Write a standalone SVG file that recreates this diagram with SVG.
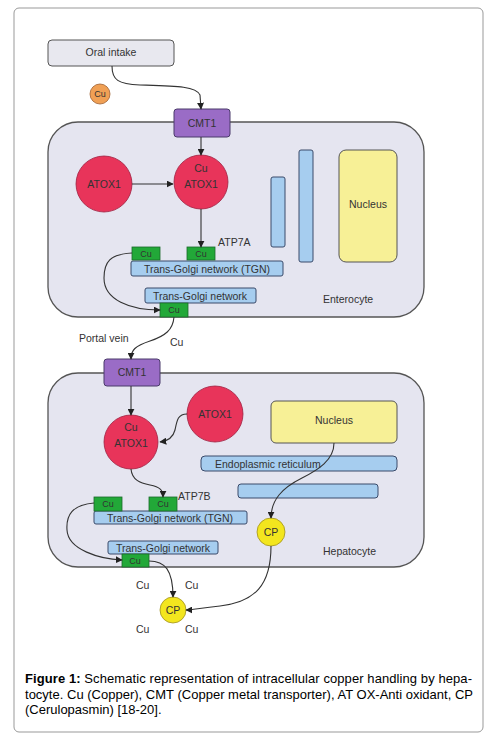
<svg xmlns="http://www.w3.org/2000/svg" width="496" height="745" viewBox="0 0 496 745">
<defs>
<style>
.t{font-family:"Liberation Sans",Arial,sans-serif;font-size:10.5px;fill:#333;}
.s{font-size:9px;}
.c{text-anchor:middle;}
.cell{fill:#e5e5f0;stroke:#555;stroke-width:1.3;}
.red{fill:#e8345a;stroke:#a02040;stroke-width:0.8;}
.cmt{fill:#9a6cc6;stroke:#4a3a6a;stroke-width:1;}
.grn{fill:#22a838;stroke:#1a6a2a;stroke-width:0.8;}
.blu{fill:#a6cdef;stroke:#3a4a6a;stroke-width:1;}
.nuc{fill:#f7f096;stroke:#555;stroke-width:1;}
.cp{fill:#f3e61e;stroke:#a09020;stroke-width:0.8;}
.ln{fill:none;stroke:#333;stroke-width:1.1;}
.cap{font-family:"Liberation Sans",Arial,sans-serif;font-size:13px;fill:#000;}
</style>
<marker id="ar" viewBox="0 0 10 10" refX="9" refY="5" markerWidth="7" markerHeight="7" orient="auto" markerUnits="userSpaceOnUse">
<path d="M0,0 L10,5 L0,10 z" fill="#222"/>
</marker>
</defs>
<rect x="14" y="8" width="469" height="724" rx="5" fill="#fff" stroke="#999" stroke-width="1"/>

<g id="enterocyte">
<rect class="cell" x="48" y="122" width="376" height="195" rx="30"/>
<text class="t" x="323" y="303">Enterocyte</text>
</g>
<g id="hepatocyte">
<rect class="cell" x="48" y="373" width="376" height="194" rx="30"/>
<text class="t" x="323" y="555">Hepatocyte</text>
</g>

<g id="oral-intake">
<rect x="48" y="40" width="126" height="26" rx="4" fill="#e8e8ef" stroke="#555" stroke-width="1"/>
<text class="t c" x="111" y="56">Oral intake</text>
</g>
<g id="cu-orange">
<circle cx="100" cy="94" r="10" fill="#f0a055" stroke="#a06030" stroke-width="0.8"/>
<text class="t c s" x="100" y="97">Cu</text>
</g>
<g id="cmt1-top">
<rect class="cmt" x="174" y="109" width="56" height="28" rx="3"/>
<text class="t c" x="202" y="127">CMT1</text>
</g>
<g id="atox1-left">
<circle class="red" cx="104" cy="184" r="28"/>
<text class="t c" x="104" y="188">ATOX1</text>
</g>
<g id="cu-atox1-top">
<circle class="red" cx="201" cy="182" r="27"/>
<text class="t c" x="201" y="172">Cu</text>
<text class="t c" x="201" y="188">ATOX1</text>
</g>
<g id="tgn-top">
<rect class="blu" x="131" y="261" width="152" height="15" rx="2"/>
<text class="t c" x="207" y="272.5">Trans-Golgi network (TGN)</text>
</g>
<g id="cu-g1">
<rect class="grn" x="132" y="247" width="28" height="13"/>
<text class="t c s" x="146" y="257">Cu</text>
</g>
<g id="cu-g2">
<rect class="grn" x="187" y="247" width="28" height="13"/>
<text class="t c s" x="201" y="257">Cu</text>
</g>
<text class="t" x="218" y="246">ATP7A</text>
<g id="tgn2-top">
<rect class="blu" x="145" y="288" width="111" height="15" rx="2"/>
<text class="t c" x="200" y="299.5">Trans-Golgi network</text>
</g>
<g id="cu-g3">
<rect class="grn" x="160" y="303" width="28" height="14"/>
<text class="t c s" x="174" y="313">Cu</text>
</g>
<g id="bars-top">
<rect class="blu" x="271" y="177" width="14" height="70" rx="2"/>
<rect class="blu" x="299" y="150" width="14" height="112" rx="2"/>
</g>
<g id="nucleus-top">
<rect class="nuc" x="339" y="150" width="58" height="112" rx="7"/>
<text class="t c" x="368" y="208">Nucleus</text>
</g>

<text class="t" x="79" y="342">Portal vein</text>
<text class="t" x="170" y="346">Cu</text>

<g id="cmt1-bottom">
<rect class="cmt" x="104" y="359" width="56" height="27" rx="3"/>
<text class="t c" x="132" y="376">CMT1</text>
</g>
<g id="cu-atox1-bottom">
<circle class="red" cx="131" cy="442" r="27"/>
<text class="t c" x="131" y="431">Cu</text>
<text class="t c" x="131" y="447">ATOX1</text>
</g>
<g id="atox1-right">
<circle class="red" cx="215" cy="414" r="28"/>
<text class="t c" x="215" y="418">ATOX1</text>
</g>
<g id="nucleus-bottom">
<rect class="nuc" x="271" y="401" width="126" height="42" rx="5"/>
<text class="t c" x="334" y="424">Nucleus</text>
</g>
<g id="er">
<rect class="blu" x="201" y="456" width="196" height="15" rx="4"/>
<text class="t" x="215" y="467.5">Endoplasmic reticulum</text>
</g>
<rect class="blu" x="238" y="484" width="140" height="14" rx="3"/>
<g id="tgn-bottom">
<rect class="blu" x="94" y="511" width="153" height="13" rx="2"/>
<text class="t c" x="170" y="521.5">Trans-Golgi network (TGN)</text>
</g>
<g id="cu-h1">
<rect class="grn" x="94" y="497" width="28" height="14"/>
<text class="t c s" x="108" y="507">Cu</text>
</g>
<g id="cu-h2">
<rect class="grn" x="149" y="497" width="28" height="14"/>
<text class="t c s" x="163" y="507">Cu</text>
</g>
<text class="t" x="178" y="500">ATP7B</text>
<g id="tgn2-bottom">
<rect class="blu" x="108" y="541" width="110" height="13" rx="2"/>
<text class="t c" x="163" y="551.5">Trans-Golgi network</text>
</g>
<g id="cu-h3">
<rect class="grn" x="122" y="554" width="27" height="13"/>
<text class="t c s" x="135" y="564">Cu</text>
</g>
<g id="cp-hep">
<circle class="cp" cx="271" cy="532" r="14"/>
<text class="t c" x="271" y="536">CP</text>
</g>
<g id="cp-out">
<circle class="cp" cx="173" cy="610" r="13"/>
<text class="t c" x="173" y="614">CP</text>
</g>
<text class="t" x="136" y="589">Cu</text>
<text class="t" x="185" y="589">Cu</text>
<text class="t" x="136" y="633">Cu</text>
<text class="t" x="185" y="633">Cu</text>

<g id="connectors">
<path class="ln" marker-end="url(#ar)" d="M112,66 C112,80 118,84 140,85 C175,86 196,86 200,95 L201,109"/>
<path class="ln" marker-end="url(#ar)" d="M201,137 L201,155"/>
<path class="ln" marker-end="url(#ar)" d="M132,184 L173,184"/>
<path class="ln" marker-end="url(#ar)" d="M201,209 L201,247"/>
<path class="ln" marker-end="url(#ar)" d="M132,253 C110,254 104,262 104,278 C104,300 130,310 160,310"/>
<path class="ln" marker-end="url(#ar)" d="M174,317 C173,330 165,336 150,341 C135,346 131,350 131,359"/>
<path class="ln" marker-end="url(#ar)" d="M131,386 L131,415"/>
<path class="ln" marker-end="url(#ar)" d="M187,414 C178,414 177,420 175,430 C173,438 168,441 160,442"/>
<path class="ln" marker-end="url(#ar)" d="M131,469 C132,480 140,483 150,485 C160,487 163,490 163,497"/>
<path class="ln" marker-end="url(#ar)" d="M94,503 C72,505 66,515 67,530 C68,550 100,559 122,560"/>
<path class="ln" marker-end="url(#ar)" d="M149,561 C165,561 173,570 173,597"/>
<path class="ln" marker-end="url(#ar)" d="M334,443 C334,460 318,470 302,478 C282,488 271,500 271,518"/>
<path class="ln" marker-end="url(#ar)" d="M271,546 C271,585 255,602 220,606 C200,608 192,610 186,610"/>
</g>

<g id="caption">
<text class="cap" x="25" y="683" textLength="447" lengthAdjust="spacing"><tspan font-weight="bold">Figure 1:</tspan> Schematic representation of intracellular copper handling by hepa-</text>
<text class="cap" x="25" y="699" textLength="448" lengthAdjust="spacing">tocyte. Cu (Copper), CMT (Copper metal transporter), AT OX-Anti oxidant, CP</text>
<text class="cap" x="25" y="714">(Cerulopasmin) [18-20].</text>
</g>
</svg>
